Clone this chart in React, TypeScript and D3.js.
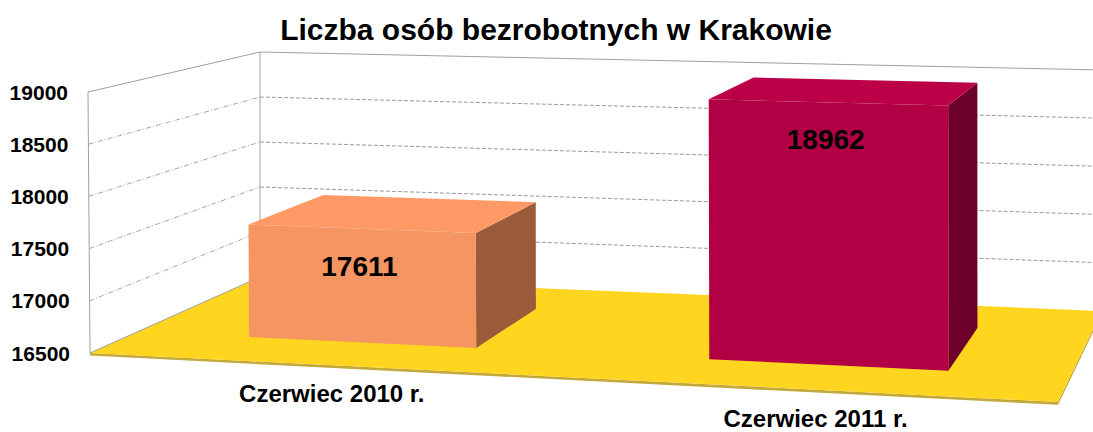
import React, { useEffect, useRef } from 'react';
import * as d3 from 'd3';

// data
const categories = ['Czerwiec 2010 r.', 'Czerwiec 2011 r.'];
const values = [17611, 18962];
const yTicks = [16500, 17000, 17500, 18000, 18500, 19000];
const title = 'Liczba osób bezrobotnych w Krakowie';

// bar palettes: front, top, side
const palette = [
  { front: '#F49562', top: '#FF9A66', side: '#9A5B3A' },
  { front: '#B10044', top: '#BC0048', side: '#6C002A' }
];

const FONT = '"Liberation Sans", Arial, sans-serif';

function App() {
  const svgRef = useRef<SVGSVGElement>(null);

  useEffect(() => {
    const svg = d3.select(svgRef.current);
    svg.selectAll('*').remove();

    const width = 1093;
    const height = 432;

    // Corners of the 3D plot box on screen (F/B = front/back, B/T = bottom/top, L/R)
    const FBL = [90, 353], FTL = [88, 92], BBL = [260, 277], BTL = [260, 52];
    const FBR = [1058, 402], FTR = [1058, 118], BBR = [1102, 311], BTR = [1102, 70];
    const warp = -0.05; // slight perspective along the category axis

    const lerp = (a: number[], b: number[], t: number) =>
      [a[0] + (b[0] - a[0]) * t, a[1] + (b[1] - a[1]) * t];

    // u: category axis 0..1, v: value axis 0..1, w: depth 0 (front) .. 1 (back)
    const project = (u: number, v: number, w: number) => {
      const uu = u * (1 + warp) / (1 + warp * u);
      const f = lerp(lerp(FBL, FBR, uu), lerp(FTL, FTR, uu), v);
      const b = lerp(lerp(BBL, BBR, uu), lerp(BTL, BTR, uu), v);
      return lerp(f, b, w);
    };

    const xScale = d3.scaleBand<string>()
      .domain(categories)
      .range([0, 1])
      .paddingInner(0.5)
      .paddingOuter(0.25);
    const yScale = d3.scaleLinear()
      .domain([yTicks[0], yTicks[yTicks.length - 1]])
      .range([0, 1]);

    const line = d3.line();
    const poly = (pts: number[][]) => line(pts as [number, number][]) + 'Z';

    svg.attr('width', width).attr('height', height)
      .attr('viewBox', `0 0 ${width} ${height}`);

    svg.append('rect').attr('width', width).attr('height', height).attr('fill', '#fff');

    // Title
    svg.append('text')
      .attr('x', 556)
      .attr('y', 40)
      .attr('text-anchor', 'middle')
      .attr('font-family', FONT)
      .attr('font-size', '30px')
      .attr('font-weight', 'bold')
      .attr('fill', '#000')
      .text(title);

    // Walls
    svg.append('path')
      .attr('d', poly([project(0, 0, 0), project(0, 1, 0), project(0, 1, 1), project(0, 0, 1)]))
      .attr('fill', '#fff');
    svg.append('path')
      .attr('d', poly([project(0, 0, 1), project(0, 1, 1), project(1, 1, 1), project(1, 0, 1)]))
      .attr('fill', '#fff');

    // Gridlines
    yTicks.slice(1, -1).forEach(t => {
      const v = yScale(t);
      svg.append('path')
        .attr('d', line([project(0, v, 0), project(0, v, 1)] as [number, number][]))
        .attr('stroke', '#a6a6a6')
        .attr('stroke-width', 1)
        .attr('stroke-dasharray', '5 2 1 2')
        .attr('fill', 'none');
      svg.append('path')
        .attr('d', line([project(0, v, 1), project(1, v, 1)] as [number, number][]))
        .attr('stroke', '#9a9a9a')
        .attr('stroke-width', 1)
        .attr('stroke-dasharray', '4 2')
        .attr('fill', 'none');
    });

    // Floor with a thin slab edge
    const t = -0.01;
    svg.append('path')
      .attr('d', poly([project(0, 0, 0), project(1, 0, 0), project(1, t, 0), project(0, t, 0)]))
      .attr('fill', '#C4A83A');
    svg.append('path')
      .attr('d', poly([project(1, 0, 0), project(1, 0, 1), project(1, t, 1), project(1, t, 0)]))
      .attr('fill', '#B99B2E');
    svg.append('path')
      .attr('d', poly([project(0, 0, 0), project(1, 0, 0), project(1, 0, 1), project(0, 0, 1)]))
      .attr('fill', '#FFD520');

    // Wall outlines
    svg.append('path')
      .attr('d', line([project(0, 0, 0), project(0, 1, 0), project(0, 1, 1), project(1, 1, 1)] as [number, number][]))
      .attr('stroke', '#a0a0a0').attr('stroke-width', 1).attr('fill', 'none');
    svg.append('path')
      .attr('d', line([project(0, 0, 0), project(0, 0, 1), project(0, 1, 1)] as [number, number][]))
      .attr('stroke', '#a0a0a0').attr('stroke-width', 1).attr('fill', 'none');

    // Y tick labels
    yTicks.forEach(tk => {
      const p = project(0, yScale(tk), 0);
      svg.append('text')
        .attr('x', p[0] - 20)
        .attr('y', p[1])
        .attr('dy', '0.36em')
        .attr('text-anchor', 'end')
        .attr('font-family', FONT)
        .attr('font-size', '21px')
        .attr('font-weight', 'bold')
        .attr('fill', '#000')
        .text(tk);
    });

    // Bars
    const w0 = 0.28, w1 = 0.76;
    categories.forEach((c, i) => {
      const u0 = xScale(c)!;
      const u1 = u0 + xScale.bandwidth();
      const v = yScale(values[i]);
      const col = palette[i];

      svg.append('path')
        .attr('d', poly([project(u1, 0, w0), project(u1, v, w0), project(u1, v, w1), project(u1, 0, w1)]))
        .attr('fill', col.side);
      svg.append('path')
        .attr('d', poly([project(u0, v, w0), project(u1, v, w0), project(u1, v, w1), project(u0, v, w1)]))
        .attr('fill', col.top);
      svg.append('path')
        .attr('d', poly([project(u0, 0, w0), project(u1, 0, w0), project(u1, v, w0), project(u0, v, w0)]))
        .attr('fill', col.front);

      const lp = project((u0 + u1) / 2, v, w0);
      svg.append('text')
        .attr('x', lp[0] - 2)
        .attr('y', lp[1] + 47)
        .attr('text-anchor', 'middle')
        .attr('font-family', FONT)
        .attr('font-size', '28px')
        .attr('font-weight', 'bold')
        .attr('fill', '#000')
        .text(values[i]);

      // Category label under the floor front edge
      const cp = project((u0 + u1) / 2, 0, 0);
      svg.append('text')
        .attr('x', cp[0] + 9)
        .attr('y', cp[1] + 37.5)
        .attr('text-anchor', 'middle')
        .attr('font-family', FONT)
        .attr('font-size', '24px')
        .attr('font-weight', 'bold')
        .attr('fill', '#000')
        .text(c);
    });
  }, []);

  return (
    <svg ref={svgRef} style={{ position: 'absolute', left: 0, top: 0, display: 'block' }} />
  );
}

export default App;
